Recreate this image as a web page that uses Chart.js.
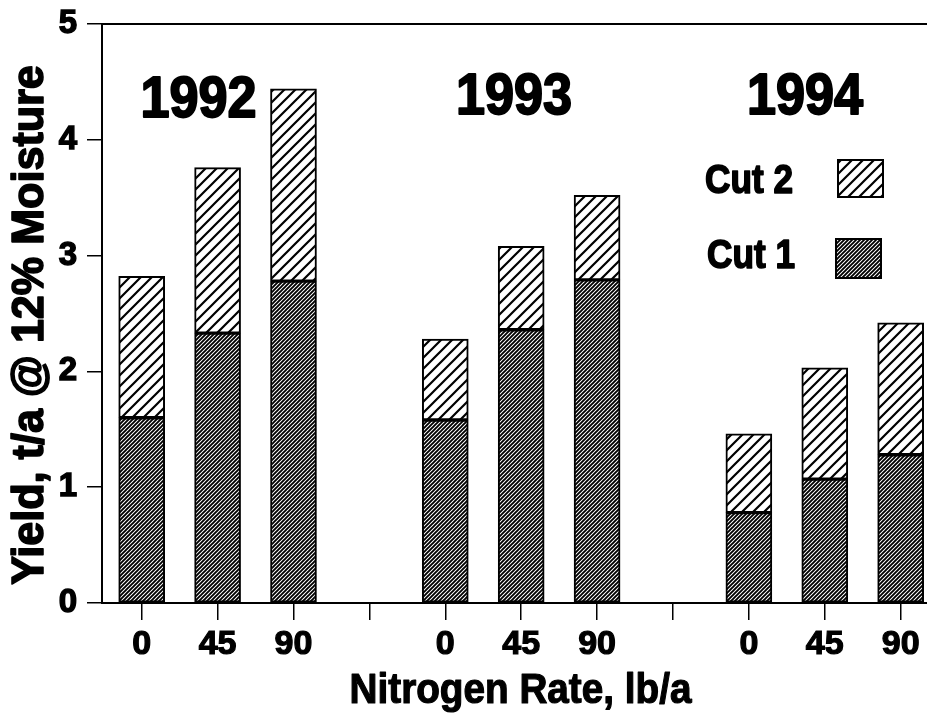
<!DOCTYPE html>
<html><head><meta charset="utf-8">
<script src="https://cdn.jsdelivr.net/npm/chart.js@4"></script>
<style>html,body{margin:0;padding:0;background:#fff;overflow:hidden}</style>
</head><body>
<canvas id="c" width="927" height="716"></canvas>
<script>
// ---- data ----
const years = ['1992', '1993', '1994'];
const rates = ['0', '45', '90'];
const cut1 = [1.60, 2.33, 2.78, 1.58, 2.36, 2.79, 0.78, 1.07, 1.28];
const cut2 = [1.22, 1.43, 1.66, 0.70, 0.72, 0.73, 0.68, 0.96, 1.14];
const yTickValues = [0, 1, 2, 3, 4, 5];
const legendLabels = ['Cut 2', 'Cut 1'];
const xTitle = 'Nitrogen Rate, lb/a';
const yTitle = 'Yield, t/a @ 12% Moisture';

const FF = "'Liberation Sans', Arial, Helvetica, sans-serif";
const slot = rates.length + 1;                 // one empty slot between years
const positions = [];
years.forEach((y, g) => rates.forEach((r, i) => positions.push(g * slot + i)));
const lastPos = positions[positions.length - 1];

function makePattern(size, lw) {
  const c = document.createElement('canvas');
  c.width = c.height = size;
  const g = c.getContext('2d');
  g.fillStyle = '#fff'; g.fillRect(0, 0, size, size);
  g.strokeStyle = '#000'; g.lineWidth = lw; g.lineCap = 'square';
  g.beginPath();
  [0, size, 2 * size].forEach(k => { g.moveTo(-1, k + 1); g.lineTo(k + 1, -1); });
  g.stroke();
  return document.getElementById('c').getContext('2d').createPattern(c, 'repeat');
}
const patCut1 = makePattern(4, 1.9);
const patCut2 = makePattern(11, 2.2);

function tickLabel(v) {
  const r = Math.round(v) % slot;
  return r < rates.length ? rates[r] : '';
}

function txt(ctx, s, x, y, size, sx, align, rot, sw) {
  ctx.save();
  ctx.translate(x, y);
  if (rot) ctx.rotate(rot);
  ctx.scale(sx, 1);
  ctx.font = 'bold ' + size + 'px ' + FF;
  ctx.textAlign = align;
  ctx.textBaseline = 'alphabetic';
  ctx.fillStyle = '#000';
  ctx.fillText(s, 0, 0);
  if (sw) { ctx.strokeStyle = '#000'; ctx.lineWidth = sw; ctx.lineJoin = 'round'; ctx.strokeText(s, 0, 0); }
  ctx.restore();
}

const decor = {
  id: 'decor',
  afterDraw(chart) {
    const ctx = chart.ctx, a = chart.chartArea;
    // top frame line
    ctx.save();
    ctx.strokeStyle = '#000'; ctx.lineWidth = 2;
    ctx.beginPath(); ctx.moveTo(a.left, a.top); ctx.lineTo(a.right, a.top); ctx.stroke();
    ctx.restore();
    // year labels
    txt(ctx, years[0], 198.5, 116.5, 58, 0.9, 'center', 0, 2);
    txt(ctx, years[1], 514, 114, 58, 0.9, 'center', 0, 2);
    txt(ctx, years[2], 805, 113.5, 58, 0.9, 'center', 0, 2);
    // legend
    txt(ctx, legendLabels[0], 705, 193, 40, 0.88, 'left', 0, 1.6);
    txt(ctx, legendLabels[1], 707, 268, 40, 0.88, 'left', 0, 1.6);
    ctx.save();
    ctx.lineWidth = 2; ctx.strokeStyle = '#000';
    ctx.fillStyle = patCut2; ctx.fillRect(838, 160, 45, 37); ctx.strokeRect(838, 160, 45, 37);
    ctx.fillStyle = patCut1; ctx.fillRect(836, 239, 45, 39); ctx.strokeRect(836, 239, 45, 39);
    ctx.restore();
    // axis titles
    txt(ctx, xTitle, 520.5, 703, 43, 0.9, 'center', 0, 1.2);
    txt(ctx, yTitle, 43, 325, 44, 0.98, 'center', -Math.PI / 2, 1.6);
  }
};

const barBase = { borderColor: '#000', borderWidth: 2, borderSkipped: false, barThickness: 46 };

new Chart(document.getElementById('c'), {
  type: 'bar',
  data: {
    datasets: [
      Object.assign({ label: 'Cut 1', backgroundColor: patCut1,
        data: cut1.map((v, i) => ({ x: positions[i], y: v })) }, barBase),
      Object.assign({ label: 'Cut 2', backgroundColor: patCut2,
        data: cut2.map((v, i) => ({ x: positions[i], y: v })) }, barBase)
    ]
  },
  options: {
    responsive: false,
    animation: false,
    devicePixelRatio: 1,
    layout: { padding: { top: 24, right: 0, bottom: 0, left: 0 } },
    plugins: { legend: { display: false }, tooltip: { enabled: false } },
    scales: {
      x: {
        type: 'linear', stacked: true, offset: false,
        min: -0.523, max: lastPos + 0.347,
        afterBuildTicks(s) { s.ticks = []; for (let v = 0; v <= lastPos; v++) s.ticks.push({ value: v }); },
        afterFit(s) { s.height = 113; s.paddingLeft = 0; s.paddingRight = 0; },
        ticks: { autoSkip: false, maxRotation: 0, padding: 4, color: '#000',
          textStrokeColor: '#000', textStrokeWidth: 1.2,
          font: { family: FF, weight: 'bold', size: 34 }, callback: v => tickLabel(v) },
        grid: { offset: false, drawOnChartArea: false, drawTicks: true, tickLength: 17, color: '#000', lineWidth: 1.5 },
        border: { display: true, color: '#000', width: 2 }
      },
      y: {
        type: 'linear', stacked: true, min: yTickValues[0], max: yTickValues[yTickValues.length - 1],
        afterBuildTicks(s) { s.ticks = yTickValues.map(v => ({ value: v })); },
        afterFit(s) { s.width = 102; s.paddingTop = 0; s.paddingBottom = 0; },
        ticks: { padding: 10, color: '#000', textStrokeColor: '#000', textStrokeWidth: 1.4,
          font: { family: FF, weight: 'bold', size: 33 } },
        grid: { drawOnChartArea: false, drawTicks: true, tickLength: 15, color: '#000', lineWidth: 1.5 },
        border: { display: true, color: '#000', width: 2 }
      }
    }
  },
  plugins: [decor]
});
</script>
</body></html>
